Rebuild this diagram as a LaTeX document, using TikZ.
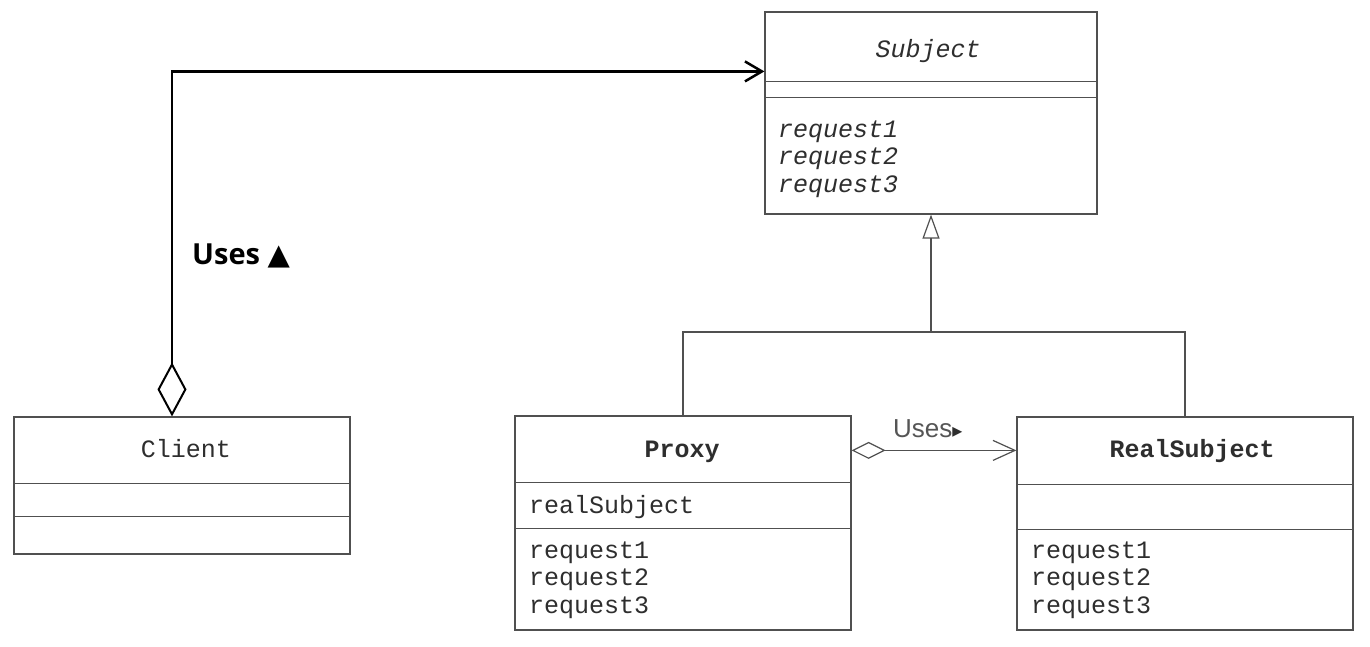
\documentclass[tikz,border=0pt]{standalone}
\usepackage{fontspec}
\setmonofont{Liberation Mono}
\setsansfont{Liberation Sans}
\newfontfamily\opensans{Open Sans}
\newfontfamily\dejavu{DejaVu Sans}
\usetikzlibrary{arrows.meta,calc}
\definecolor{linegray}{HTML}{505050}
\definecolor{textgray}{HTML}{2E2E2E}
\definecolor{labelgray}{HTML}{555555}
\tikzset{
  umlbox/.style={draw=linegray, line width=1.2pt, rectangle, inner sep=0pt, minimum width=336pt},
  sepline/.style={draw=linegray, line width=1.2pt},
  mono/.style={font=\fontsize{25}{27.5}\selectfont\ttfamily, text=textgray, inner sep=0pt},
  thinconn/.style={draw=linegray, line width=1.2pt},
  usesconn/.style={draw=black, line width=2.5pt}
}
\begin{document}
\begin{tikzpicture}[x=1pt,y=-1pt]
\useasboundingbox (0,0) rectangle (1370,646);

% boxes
\node[umlbox, minimum height=137pt] (client) at (182,485.5) {};
\node[umlbox, minimum width=332pt, minimum height=202pt] (subject) at (931,113) {};
\node[umlbox, minimum height=214pt] (proxy) at (683,523) {};
\node[umlbox, minimum height=213pt] (realsubj) at (1185,523.5) {};

% separators
\draw[sepline] ($(client.north west)+(0,67)$) -- ($(client.north east)+(0,67)$);
\draw[sepline] ($(client.north west)+(0,100)$) -- ($(client.north east)+(0,100)$);
\draw[sepline] ($(subject.north west)+(0,70)$) -- ($(subject.north east)+(0,70)$);
\draw[sepline] ($(subject.north west)+(0,86)$) -- ($(subject.north east)+(0,86)$);
\draw[sepline] ($(proxy.north west)+(0,67)$) -- ($(proxy.north east)+(0,67)$);
\draw[sepline] ($(proxy.north west)+(0,113)$) -- ($(proxy.north east)+(0,113)$);
\draw[sepline] ($(realsubj.north west)+(0,68)$) -- ($(realsubj.north east)+(0,68)$);
\draw[sepline] ($(realsubj.north west)+(0,113)$) -- ($(realsubj.north east)+(0,113)$);

% texts
\node[mono, anchor=base] (clientname) at (186,457) {Client};
\node[mono, anchor=base] (subjname) at (928,57) {\itshape Subject};
\node[mono, anchor=base west, align=left] (subjops) at (778,192) {\itshape request1\\\itshape request2\\\itshape request3};
\node[mono, anchor=base] (proxyname) at (682,457) {\bfseries Proxy};
\node[mono, anchor=base west] (proxyattr) at (529,513) {realSubject};
\node[mono, anchor=base west, align=left] (proxyops) at (529,613) {request1\\request2\\request3};
\node[mono, anchor=base] (realname) at (1192,457) {\bfseries RealSubject};
\node[mono, anchor=base west, align=left] (realops) at (1031,613) {request1\\request2\\request3};

% client uses subject
\draw[usesconn, {Diamond[open, length=54pt, width=29pt, line width=2pt]}-{Straight Barb[length=17pt, width=20pt]}]
  ($(client.north)+(-10,0)$) |- ($(subject.north west)+(0,60)$);
\node[anchor=base west, inner sep=0pt, font=\fontsize{29}{29}\selectfont\opensans\bfseries] (useslbl) at (192,264) {Uses {\dejavu\bfseries ▲}};

% inheritance
\coordinate (junc) at (931,332);
\draw[thinconn] (proxy.north) |- (junc) -| (realsubj.north);
\draw[thinconn, -{Triangle[open, length=24pt, width=17pt, line width=1.2pt]}] (junc) -- (subject.south);

% proxy uses realsubject
\draw[thinconn, {Diamond[open, length=34pt, width=17pt, line width=1.2pt]}-{Straight Barb[length=22pt, width=20pt, line width=1.2pt]}]
  ($(proxy.north east)+(0,35)$) -- ($(realsubj.north west)+(0,34)$);
\node[anchor=base west, inner sep=0pt, font=\fontsize{26}{26}\selectfont\sffamily, text=labelgray] (uses2lbl) at (893,437) {Uses{\dejavu\fontsize{20}{20}\selectfont\color{textgray}▸}};
\end{tikzpicture}
\end{document}
